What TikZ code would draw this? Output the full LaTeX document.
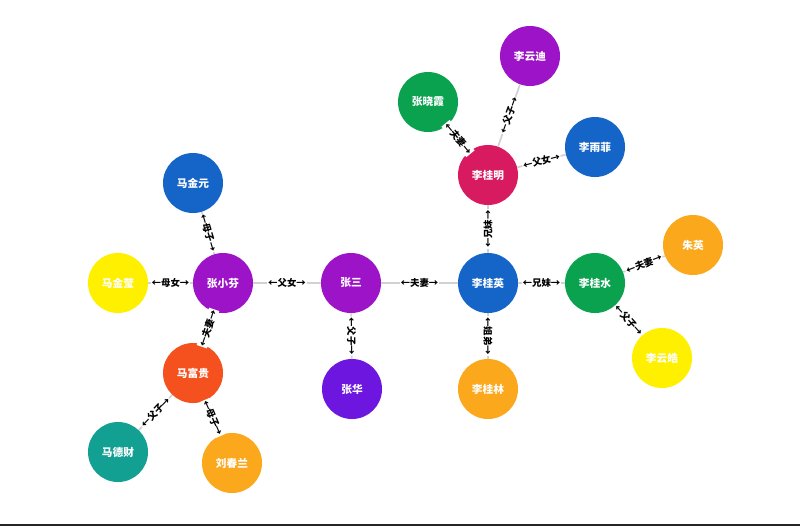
\documentclass[tikz,border=0pt]{standalone}
\usepackage{fontspec}
\setmainfont{Noto Sans CJK SC}
\definecolor{pblue}{HTML}{1565C8}
\definecolor{pyellow}{HTML}{FFF000}
\definecolor{ppurple}{HTML}{9C13C8}
\definecolor{pviolet}{HTML}{6C16E0}
\definecolor{pred}{HTML}{F4511E}
\definecolor{pteal}{HTML}{12A093}
\definecolor{porange}{HTML}{FBA81C}
\definecolor{pmagenta}{HTML}{D81B60}
\definecolor{pgreen}{HTML}{0AA24F}
\begin{document}
\begin{tikzpicture}[x=0.025cm,y=-0.025cm,
    person/.style={circle,minimum size=1.5cm,inner sep=0pt,text=white,
      font=\bfseries\fontsize{7.6}{9}\selectfont},
    rel/.style={draw=black!18,line width=1.2pt}]
  \useasboundingbox (0,0) rectangle (800,528);
  \path (193,183) node[person,fill=pblue] (jinyuan) {马金元};
  \path (118,283) node[person,fill=pyellow] (jinying) {马金莹};
  \path (223,283) node[person,fill=ppurple] (xiaofen) {张小芬};
  \path (351,283) node[person,fill=ppurple] (zhangsan) {张三};
  \path (352,389) node[person,fill=pviolet] (zhanghua) {张华};
  \path (193,373) node[person,fill=pred] (fugui) {马富贵};
  \path (118,452) node[person,fill=pteal] (decai) {马德财};
  \path (232,463) node[person,fill=porange] (chunlan) {刘春兰};
  \path (488,283) node[person,fill=pblue] (guiying) {李桂英};
  \path (488,175) node[person,fill=pmagenta] (guiming) {李桂明};
  \path (428,102) node[person,fill=pgreen] (xiaoxia) {张晓霞};
  \path (530,56) node[person,fill=ppurple] (yundi) {李云迪};
  \path (595,147) node[person,fill=pblue] (yufei) {李雨菲};
  \path (595,283) node[person,fill=pgreen] (guishui) {李桂水};
  \path (693,245) node[person,fill=porange] (zhuying) {朱英};
  \path (662,358) node[person,fill=pyellow] (yunhao) {李云皓};
  \path (488,389) node[person,fill=porange] (guilin) {李桂林};

  \begin{scope}[every node/.append style={midway,sloped,fill=white,inner sep=0.6pt,
      font=\bfseries\fontsize{6.7}{8}\selectfont}]
    \draw[rel] (xiaofen) -- node{←母子→} (jinyuan);
    \draw[rel] (xiaofen) -- node{←母女→} (jinying);
    \draw[rel] (xiaofen) -- node{←父女→} (zhangsan);
    \draw[rel] (xiaofen) -- node{←夫妻→} (fugui);
    \draw[rel] (fugui) -- node{←父子→} (decai);
    \draw[rel] (fugui) -- node{←母子→} (chunlan);
    \draw[rel] (zhangsan) -- node{←父子→} (zhanghua);
    \draw[rel] (zhangsan) -- node{←夫妻→} (guiying);
    \draw[rel] (guiying) -- node{←兄妹→} (guiming);
    \draw[rel] (guiying) -- node{←兄妹→} (guishui);
    \draw[rel] (guiying) -- node{←姐弟→} (guilin);
    \draw[rel] (guiming) -- node{←夫妻→} (xiaoxia);
    \draw[rel] (guiming) -- node{←父子→} (yundi);
    \draw[rel] (guiming) -- node{←父女→} (yufei);
    \draw[rel] (guishui) -- node{←夫妻→} (zhuying);
    \draw[rel] (guishui) -- node{←父子→} (yunhao);
  \end{scope}

  % bottom rule
  \draw[line width=1.5pt,black!85] (0,525) -- (800,525);
\end{tikzpicture}
\end{document}
